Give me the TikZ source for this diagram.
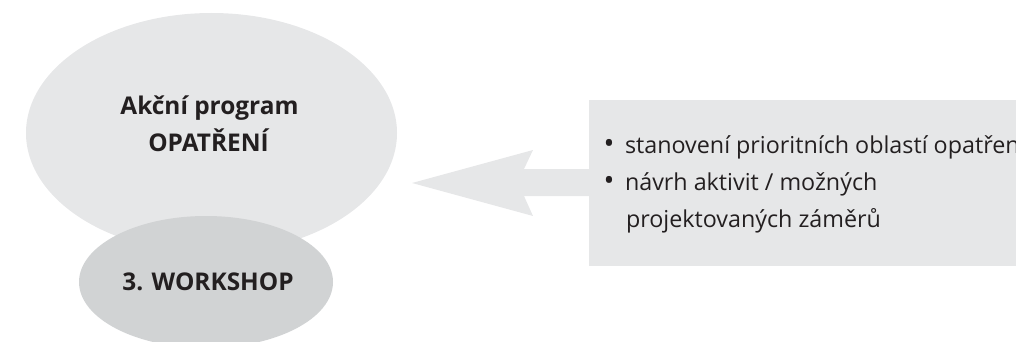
\documentclass[tikz,border=0pt]{standalone}
\usepackage{fontspec}
\setmainfont{Open Sans}
\usetikzlibrary{shapes.geometric}
\definecolor{lightg}{HTML}{E6E7E8}
\definecolor{darkg}{HTML}{D1D3D4}
\definecolor{ink}{HTML}{231F20}
\tikzset{
  every node/.style={inner sep=0pt, outer sep=0pt, text=ink},
  titletext/.style={anchor=base, font=\fontsize{24.4}{28}\selectfont\bfseries},
  itemtext/.style={anchor=base west, font=\fontsize{23.3}{28}\selectfont},
  bullettext/.style={anchor=base, font=\fontsize{29}{32}\selectfont},
}
\begin{document}
\begin{tikzpicture}[x=1pt,y=-1pt]
\useasboundingbox (0,0) rectangle (1016,342);
% big ellipse
\node[ellipse, fill=lightg, minimum width=371pt, minimum height=240pt] (prog) at (211.5,133) {};
% small ellipse
\node[ellipse, fill=darkg, minimum width=254pt, minimum height=132pt] (work) at (206,282) {};
\node[titletext] (t1) at (209.5,114) {Akční program};
\node[titletext] (t2) at (208.5,151) {OPATŘENÍ};
\node[titletext] (t3) at (208,290) {3. WORKSHOP};
% box
\path[fill=lightg] (589,100) rectangle (1030,266);
\coordinate (boxleft) at (589,182.5);
\coordinate (tip) at (412,183);
% arrow
\fill[lightg] (boxleft |- 0,169) -- (524,169) -- (533,150) -- (tip) -- (533,216) -- (524,196) -- (boxleft |- 0,196) -- cycle;
% texts
\node[bullettext] (b1) at (609,153) {•};
\node[itemtext] (i1) at (625,153) {stanovení prioritních oblastí opatření};
\node[bullettext] (b2) at (609,190) {•};
\node[itemtext] (i2) at (625,190) {návrh aktivit / možných};
\node[itemtext] (i3) at (626,227) {projektovaných záměrů};
\end{tikzpicture}
\end{document}
